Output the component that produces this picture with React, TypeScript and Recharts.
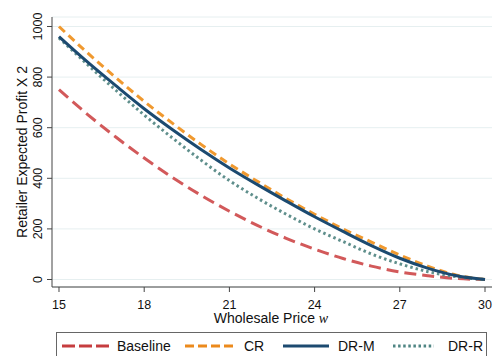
import React from "react";
import { LineChart, Line, XAxis, YAxis, CartesianGrid } from "recharts";

const wholesalePrice = [15, 16, 17, 18, 19, 20, 21, 22, 23, 24, 25, 26, 27, 28, 29, 30];
const baseline = [750, 653, 563, 480, 403, 333, 270, 213, 163, 120, 83, 53, 30, 15, 4, 0];
const cr = [1000, 896, 798, 704, 617, 534, 457, 387, 320, 258, 200, 148, 97, 52, 17, 0];
const drM = [960, 860, 766, 675, 592, 514, 441, 374, 310, 248, 190, 134, 84, 44, 15, 0];
const drR = [955, 850, 748, 650, 559, 472, 391, 321, 258, 200, 150, 101, 62, 31, 11, 0];

const xTicks = [15, 18, 21, 24, 27, 30];
const yTicks = [0, 200, 400, 600, 800, 1000];

const seriesNames = ["Baseline", "CR", "DR-M", "DR-R"];
const seriesKeys = ["baseline", "cr", "drM", "drR"];
const seriesColors = ["#d2595a", "#f0992f", "#1c4a70", "#5f8f8c"];
const legendColors = ["#c63d3f", "#ec8a1c", "#1c4a70", "#4f8583"];
const plotDash = ["12 6", "8 5", "", "2.5 3"];
const legendDash = ["13 4", "9 4", "", "2.5 2.6"];

const data = wholesalePrice.map((w, i) => ({
  w,
  baseline: baseline[i],
  cr: cr[i],
  drM: drM[i],
  drR: drR[i],
}));

const FONT = "'Liberation Sans', Arial, sans-serif";

const YTick = (props: any) => {
  const { x, y, payload } = props;
  const tx = x - 3;
  return (
    <text
      x={tx}
      y={y}
      transform={`rotate(-90, ${tx}, ${y})`}
      textAnchor="middle"
      fontSize={12.5}
      fontFamily={FONT}
      fill="#111"
    >
      {payload.value}
    </text>
  );
};

const XTick = (props: any) => {
  const { x, y, payload } = props;
  return (
    <text x={x} y={y + 15} textAnchor="middle" fontSize={12.5} fontFamily={FONT} fill="#111">
      {payload.value}
    </text>
  );
};

const legendSampleX = [5, 128, 226, 336];
const legendSampleW = [47, 51, 46, 41];
const legendTextX = [60, 187, 281, 391];

export default function App() {
  return (
    <div style={{ position: "absolute", left: 0, top: 0, width: 496, height: 356, background: "#fff", overflow: "hidden" }}>
      <LineChart
        width={496}
        height={356}
        data={data}
        margin={{ top: 17, right: 4, left: 0, bottom: 39 }}
      >
        <CartesianGrid horizontal vertical={false} stroke="#e6eff0" strokeWidth={1} />
        <XAxis
          dataKey="w"
          type="number"
          domain={[14.754, 30.246]}
          ticks={xTicks}
          allowDataOverflow
          height={30}
          tickSize={5}
          tick={<XTick />}
          stroke="#444"
          tickLine={{ stroke: "#444" }}
        />
        <YAxis
          type="number"
          domain={[-29.6, 1037.5]}
          ticks={yTicks}
          allowDataOverflow
          width={52}
          tickSize={5}
          tick={<YTick />}
          stroke="#444"
          tickLine={{ stroke: "#444" }}
        />
        {[0, 1, 3, 2].map((i) => (
          <Line
            key={seriesKeys[i]}
            dataKey={seriesKeys[i]}
            type="monotone"
            stroke={seriesColors[i]}
            strokeWidth={3}
            strokeDasharray={plotDash[i] || undefined}
            dot={false}
            activeDot={false}
            isAnimationActive={false}
          />
        ))}
        <text
          x={27}
          y={152}
          transform="rotate(-90, 27, 152)"
          textAnchor="middle"
          fontSize={14}
          fontFamily={FONT}
          fill="#111"
        >
          Retailer Expected Profit X 2
        </text>
        <text x={271} y={323} textAnchor="middle" fontSize={14} fontFamily={FONT} fill="#111">
          Wholesale Price{" "}
          <tspan fontFamily="'Liberation Serif', 'DejaVu Serif', serif" fontStyle="italic">
            w
          </tspan>
        </text>
      </LineChart>
      <div
        style={{
          position: "absolute",
          left: 56,
          top: 332,
          width: 431,
          height: 40,
          border: "1px solid #666",
          boxSizing: "border-box",
        }}
      >
        <svg width={431} height={40} style={{ position: "absolute", left: 0, top: 0 }}>
          {seriesNames.map((name, i) => (
            <g key={name}>
              <line
                x1={legendSampleX[i]}
                x2={legendSampleX[i] + legendSampleW[i]}
                y1={13}
                y2={13}
                stroke={legendColors[i]}
                strokeWidth={3}
                strokeDasharray={legendDash[i] || undefined}
              />
              <text x={legendTextX[i]} y={18} fontSize={14} fontFamily={FONT} fill="#111">
                {name}
              </text>
            </g>
          ))}
        </svg>
      </div>
    </div>
  );
}
